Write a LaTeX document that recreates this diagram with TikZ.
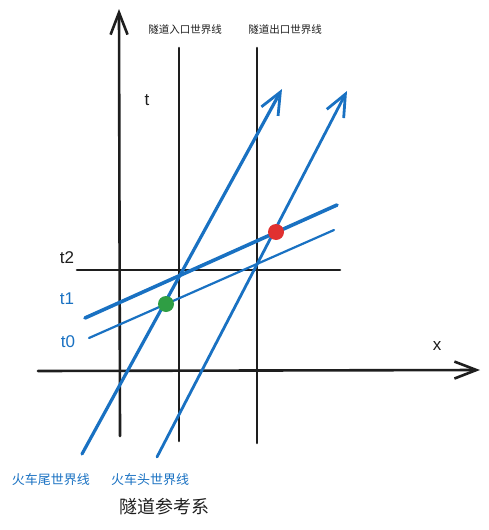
\documentclass[tikz,border=0pt]{standalone}
\usepackage{fontspec}
\newfontfamily\cjk{Noto Sans CJK SC}
\setmainfont{Liberation Sans}
\usetikzlibrary{arrows.meta}
\definecolor{ink}{HTML}{1E1E1E}
\definecolor{blu}{HTML}{1971C2}
\definecolor{grn}{HTML}{2F9E44}
\definecolor{rd}{HTML}{E03131}
\tikzset{
  axis/.style={ink, line width=2.6pt, line cap=round, -{Straight Barb[length=22pt,width=17pt,line width=2.6pt]}},
  blk/.style={ink, line width=2.6pt, line cap=round},
  bl/.style={blu, line width=2.6pt, line cap=round},
  blarrow/.style={blu, line width=2.8pt, line cap=round, -{Straight Barb[length=22pt,width=19pt,line width=2.8pt]}},
  dot/.style={circle, inner sep=0pt, minimum size=16pt},
  hand/.style={font=\fontsize{17}{17}\selectfont, inner sep=0pt},
  small/.style={font=\cjk\fontsize{10.5}{11}\selectfont, inner sep=0pt, ink},
  blab/.style={font=\cjk\fontsize{13}{14}\selectfont, inner sep=0pt, blu},
}
\begin{document}
\begin{tikzpicture}[x=1pt,y=-1pt]
\useasboundingbox (0,0) rectangle (489,530);
% coordinates
\coordinate (tb) at (120,436);
\coordinate (tt) at (119,9);
\coordinate (xl) at (38,371);
\coordinate (xr) at (480,370);
\coordinate (ent1) at (179,48);
\coordinate (ent2) at (179,441);
\coordinate (ext1) at (257,48);
\coordinate (ext2) at (257,443);
\coordinate (t2a) at (77,270);
\coordinate (t2b) at (340,270);
\coordinate (t1a) at (85,318);
\coordinate (t1b) at (337,205);
\coordinate (t0a) at (89,338);
\coordinate (t0b) at (334,230);
\coordinate (tail1) at (82,454);
\coordinate (tail2) at (282,89);
\coordinate (head1) at (157,457);
\coordinate (head2) at (347,91);
% axes
\draw[axis] (tb) -- (tt);
\draw[axis] (xl) -- (xr);
% tunnel world lines
\draw[blk] (ent1) -- (ent2);
\draw[blk] (ext1) -- (ext2);
% t2
\draw[blk] (t2a) -- (t2b);
% simultaneity lines
\draw[bl, line width=3.6pt] (t1a) -- (t1b);
\draw[bl, line width=2.2pt] (t0a) -- (t0b);
% train world lines
\draw[blarrow, line width=3.2pt] (tail1) -- (tail2);
\draw[blarrow] (head1) -- (head2);
% events
\node[dot, fill=grn] (g) at (166,304) {};
\node[dot, fill=rd] (r) at (276,232) {};
% labels
\node[hand, ink] (lt) at (147,100) {t};
\node[hand, ink] (lx) at (437,346) {x};
\node[hand, ink] (lt2) at (67,258) {t2};
\node[hand, blu] (lt1) at (67,299) {t1};
\node[hand, blu] (lt0) at (68,342) {t0};
\node[small] (lent) at (185,30) {隧道入口世界线};
\node[small] (lext) at (285,30) {隧道出口世界线};
\node[blab] (ltail) at (51,480) {火车尾世界线};
\node[blab] (lhead) at (150,480) {火车头世界线};
\node[font=\cjk\fontsize{18}{19}\selectfont, inner sep=0pt, ink] (lframe) at (164,507) {隧道参考系};
\end{tikzpicture}
\end{document}
